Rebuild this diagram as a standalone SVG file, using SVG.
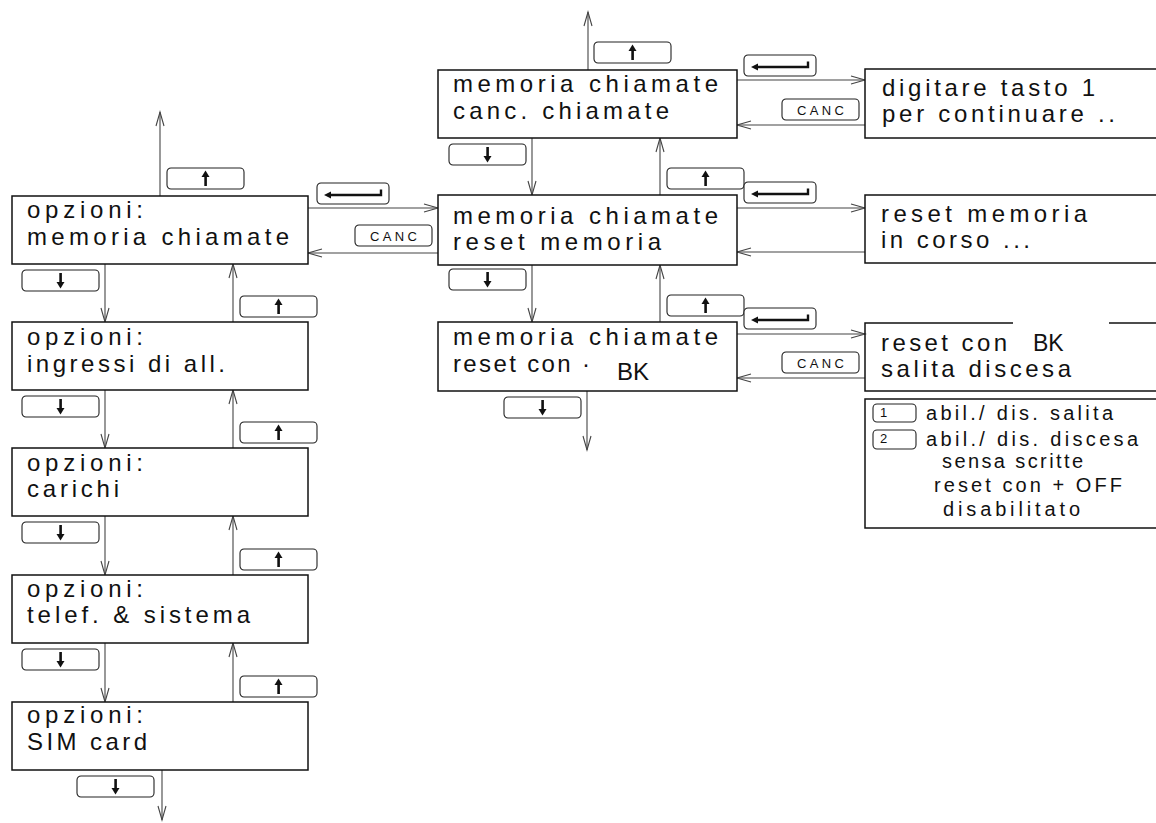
<svg xmlns="http://www.w3.org/2000/svg" width="1156" height="823" viewBox="0 0 1156 823">
  <style>
    .box { fill: #fff; stroke: #111; stroke-width: 1.5; }
    .edge { fill: none; stroke: #111; stroke-width: 1.5; }
    .con { fill: none; stroke: #444; stroke-width: 1.1; }
    .key { fill: #fff; stroke: #222; stroke-width: 1.1; }
    .t { font-family: "Liberation Sans", Arial, sans-serif; font-size: 24px; fill: #111; }
    .bk { font-family: "Liberation Sans", Arial, sans-serif; font-size: 24px; fill: #111; }
    .s { font-family: "Liberation Sans", Arial, sans-serif; font-size: 20px; fill: #111; }
    .k { font-family: "Liberation Sans", Arial, sans-serif; font-size: 13px; fill: #111; }
  </style>
  <defs>
    <marker id="open" markerUnits="userSpaceOnUse" markerWidth="16" markerHeight="10" refX="14" refY="4" orient="auto" overflow="visible">
      <path d="M0,0 L14,4 L0,8" fill="none" stroke="#444" stroke-width="1.1"/>
    </marker>
    <!-- keypad buttons, origin at the button's top-left corner -->
    <g id="k-up">
      <rect class="key" x="0" y="0" width="77" height="21" rx="4"/>
      <path d="M34.5,9 L38.5,2.5 L42.5,9 Z" fill="#111"/>
      <rect x="37.3" y="8" width="2.6" height="10" fill="#111"/>
    </g>
    <g id="k-down">
      <rect class="key" x="0" y="0" width="77" height="21" rx="4"/>
      <rect x="37.3" y="3" width="2.6" height="10" fill="#111"/>
      <path d="M34.5,12 L38.5,18.5 L42.5,12 Z" fill="#111"/>
    </g>
    <g id="k-enter">
      <rect class="key" x="0" y="0" width="72" height="21" rx="4"/>
      <path d="M7,12 L14,8.5 L14,15.5 Z" fill="#111"/>
      <path d="M13,12 L64,12 L64,6.5" fill="none" stroke="#111" stroke-width="2.4"/>
    </g>
    <g id="k-canc">
      <rect class="key" x="0" y="0" width="77" height="21" rx="4"/>
      <text class="k" x="15" y="15.5" textLength="47" lengthAdjust="spacing">CANC</text>
    </g>
  </defs>

  <!-- connectors -->
  <g id="connectors">
    <!-- options column -->
    <line class="con" x1="160" y1="196" x2="160" y2="112" marker-end="url(#open)"/>
    <line class="con" x1="105" y1="264" x2="105" y2="322" marker-end="url(#open)"/>
    <line class="con" x1="233" y1="322" x2="233" y2="264" marker-end="url(#open)"/>
    <line class="con" x1="105" y1="390" x2="105" y2="448" marker-end="url(#open)"/>
    <line class="con" x1="233" y1="448" x2="233" y2="390" marker-end="url(#open)"/>
    <line class="con" x1="105" y1="516" x2="105" y2="575" marker-end="url(#open)"/>
    <line class="con" x1="233" y1="575" x2="233" y2="516" marker-end="url(#open)"/>
    <line class="con" x1="105" y1="643" x2="105" y2="702" marker-end="url(#open)"/>
    <line class="con" x1="233" y1="702" x2="233" y2="643" marker-end="url(#open)"/>
    <line class="con" x1="162" y1="770" x2="162" y2="820" marker-end="url(#open)"/>
    <!-- options to call memory -->
    <line class="con" x1="308" y1="208" x2="438" y2="208" marker-end="url(#open)"/>
    <line class="con" x1="438" y1="253" x2="308" y2="253" marker-end="url(#open)"/>
    <!-- call memory column -->
    <line class="con" x1="588" y1="70" x2="588" y2="12" marker-end="url(#open)"/>
    <line class="con" x1="532" y1="138" x2="532" y2="195" marker-end="url(#open)"/>
    <line class="con" x1="660" y1="195" x2="660" y2="138" marker-end="url(#open)"/>
    <line class="con" x1="532" y1="265" x2="532" y2="322" marker-end="url(#open)"/>
    <line class="con" x1="660" y1="322" x2="660" y2="265" marker-end="url(#open)"/>
    <line class="con" x1="587" y1="391" x2="587" y2="450" marker-end="url(#open)"/>
    <!-- call memory to confirmations -->
    <line class="con" x1="737" y1="80" x2="865" y2="80" marker-end="url(#open)"/>
    <line class="con" x1="865" y1="125" x2="737" y2="125" marker-end="url(#open)"/>
    <line class="con" x1="737" y1="208" x2="865" y2="208" marker-end="url(#open)"/>
    <line class="con" x1="865" y1="252" x2="737" y2="252" marker-end="url(#open)"/>
    <line class="con" x1="737" y1="334" x2="865" y2="334" marker-end="url(#open)"/>
    <line class="con" x1="865" y1="378" x2="737" y2="378" marker-end="url(#open)"/>
  </g>

  <!-- keys -->
  <g id="keys">
    <use href="#k-up" x="167" y="168"/>
    <use href="#k-down" x="22" y="270"/>
    <use href="#k-up" x="240" y="296"/>
    <use href="#k-down" x="22" y="396"/>
    <use href="#k-up" x="240" y="422"/>
    <use href="#k-down" x="22" y="522"/>
    <use href="#k-up" x="240" y="549"/>
    <use href="#k-down" x="22" y="649"/>
    <use href="#k-up" x="240" y="676"/>
    <use href="#k-down" x="77" y="776"/>
    <use href="#k-enter" x="317" y="183"/>
    <use href="#k-canc" x="355" y="225"/>
    <use href="#k-up" x="594" y="42"/>
    <use href="#k-enter" x="744" y="55"/>
    <use href="#k-canc" x="782" y="99"/>
    <use href="#k-down" x="449" y="144"/>
    <use href="#k-up" x="667" y="168"/>
    <use href="#k-enter" x="744" y="182"/>
    <use href="#k-down" x="449" y="269"/>
    <use href="#k-up" x="667" y="295"/>
    <use href="#k-enter" x="744" y="308"/>
    <use href="#k-canc" x="782" y="352"/>
    <use href="#k-down" x="504" y="397"/>
  </g>

  <!-- options menu -->
  <g id="opt-memoria">
    <rect class="box" x="12" y="196" width="296" height="68"/>
    <text class="t" x="27" y="218" textLength="116" lengthAdjust="spacing">opzioni:</text>
    <text class="t" x="27" y="245" textLength="262" lengthAdjust="spacing">memoria chiamate</text>
  </g>
  <g id="opt-ingressi">
    <rect class="box" x="12" y="322" width="296" height="68"/>
    <text class="t" x="27" y="345" textLength="116" lengthAdjust="spacing">opzioni:</text>
    <text class="t" x="27" y="372" textLength="198" lengthAdjust="spacing">ingressi di all.</text>
  </g>
  <g id="opt-carichi">
    <rect class="box" x="12" y="448" width="296" height="68"/>
    <text class="t" x="27" y="471" textLength="116" lengthAdjust="spacing">opzioni:</text>
    <text class="t" x="27" y="497" textLength="92" lengthAdjust="spacing">carichi</text>
  </g>
  <g id="opt-telef">
    <rect class="box" x="12" y="575" width="296" height="68"/>
    <text class="t" x="27" y="597" textLength="116" lengthAdjust="spacing">opzioni:</text>
    <text class="t" x="27" y="623" textLength="223" lengthAdjust="spacing">telef. &amp; sistema</text>
  </g>
  <g id="opt-sim">
    <rect class="box" x="12" y="702" width="296" height="68"/>
    <text class="t" x="27" y="723" textLength="116" lengthAdjust="spacing">opzioni:</text>
    <text class="t" x="27" y="750" textLength="120" lengthAdjust="spacing">SIM card</text>
  </g>

  <!-- call memory menu -->
  <g id="mem-canc">
    <rect class="box" x="438" y="70" width="299" height="68"/>
    <text class="t" x="453" y="92" textLength="265" lengthAdjust="spacing">memoria chiamate</text>
    <text class="t" x="453" y="119" textLength="216" lengthAdjust="spacing">canc. chiamate</text>
  </g>
  <g id="mem-reset">
    <rect class="box" x="438" y="195" width="299" height="70"/>
    <text class="t" x="453" y="224" textLength="265" lengthAdjust="spacing">memoria chiamate</text>
    <text class="t" x="453" y="250" textLength="208" lengthAdjust="spacing">reset memoria</text>
  </g>
  <g id="mem-reset-bk">
    <rect class="box" x="438" y="322" width="299" height="69"/>
    <text class="t" x="453" y="345" textLength="265" lengthAdjust="spacing">memoria chiamate</text>
    <text class="t" x="453" y="372" textLength="137" lengthAdjust="spacing">reset con ·</text>
    <text class="bk" x="617" y="380">BK</text>
  </g>

  <!-- confirmation screens -->
  <g id="conf-canc">
    <rect class="box" x="865" y="69" width="310" height="69"/>
    <text class="t" x="882" y="96" textLength="213" lengthAdjust="spacing">digitare tasto 1</text>
    <text class="t" x="882" y="122" textLength="233" lengthAdjust="spacing">per continuare ..</text>
  </g>
  <g id="conf-reset">
    <rect class="box" x="865" y="195" width="310" height="68"/>
    <text class="t" x="881" y="222" textLength="206" lengthAdjust="spacing">reset memoria</text>
    <text class="t" x="881" y="248" textLength="149" lengthAdjust="spacing">in corso ...</text>
  </g>
  <g id="conf-reset-bk">
    <path class="edge" d="M1013,323 L865,323 L865,391 L1175,391"/>
    <line class="edge" x1="1109" y1="323" x2="1175" y2="323"/>
    <text class="t" x="881" y="351" textLength="126" lengthAdjust="spacing">reset con</text>
    <text class="bk" x="1033" y="351" style="font-size:23px">BK</text>
    <text class="t" x="881" y="377" textLength="190" lengthAdjust="spacing">salita discesa</text>
  </g>
  <g id="conf-info">
    <rect class="box" x="865" y="399" width="310" height="129"/>
    <rect class="key" x="873" y="404" width="43" height="18" rx="4"/>
    <text class="k" x="880" y="417">1</text>
    <rect class="key" x="873" y="430" width="43" height="19" rx="4"/>
    <text class="k" x="880" y="443">2</text>
    <text class="s" x="926" y="420" textLength="187" lengthAdjust="spacing">abil./ dis. salita</text>
    <text class="s" x="926" y="446" textLength="212" lengthAdjust="spacing">abil./ dis. discesa</text>
    <text class="s" x="942" y="468" textLength="141" lengthAdjust="spacing">sensa scritte</text>
    <text class="s" x="934" y="492" textLength="188" lengthAdjust="spacing">reset con + OFF</text>
    <text class="s" x="943" y="516" textLength="137" lengthAdjust="spacing">disabilitato</text>
  </g>
</svg>
